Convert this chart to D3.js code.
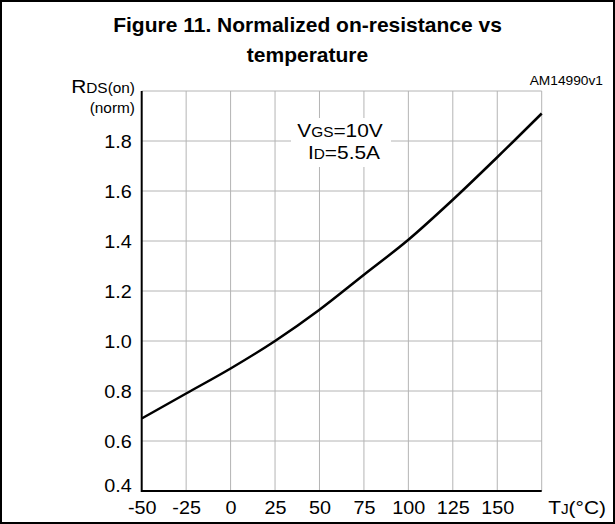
<!DOCTYPE html>
<html><head><meta charset="utf-8">
<script src="https://cdn.jsdelivr.net/npm/d3@7"></script>
<style>
html,body{margin:0;padding:0;background:#fff;}
svg{display:block;font-family:"Liberation Sans",Arial,Helvetica,sans-serif;}
</style></head><body>
<svg id="c" width="615" height="524"></svg>
<script>
const temps = [-50, -25, 0, 25, 50, 75, 100, 125, 150, 175];
const rdsNorm = [0.69, 0.79, 0.89, 1.00, 1.125, 1.265, 1.405, 1.565, 1.735, 1.91];
const xTicks = [-50, -25, 0, 25, 50, 75, 100, 125, 150];
const yTicks = [0.4, 0.6, 0.8, 1.0, 1.2, 1.4, 1.6, 1.8];
const titleLines = ["Figure 11. Normalized on-resistance vs", "temperature"];

const svg = d3.select("#c");
const W = 615, H = 524;
const SX = 1.1; // horizontal stretch of the original lettering
const m = {left: 141.7, right: 541.7, top: 91, bottom: 491};

svg.append("rect").attr("x",1).attr("y",1).attr("width",W-2).attr("height",H-2)
  .attr("fill","#fff").attr("stroke","#000").attr("stroke-width",2);

const x = d3.scaleLinear().domain([-50,175]).range([m.left,m.right]);
const y = d3.scaleLinear().domain([0.4,2.0]).range([m.bottom,m.top]);

function stretched(px, py, anchor, size){
  return svg.append("text").attr("transform",`translate(${px},${py}) scale(${SX},1)`)
    .attr("text-anchor",anchor).attr("font-size",size);
}

// title
svg.append("g").selectAll("text").data(titleLines).join("text")
  .attr("x", W/2).attr("y",(d,i)=>32+i*30).attr("text-anchor","middle")
  .attr("font-weight","bold").attr("font-size",21).text(d=>d);

stretched(603,85,"end",12.5).text("AM14990v1");

// grid
const grid = svg.append("g").attr("stroke","#b4b4b4").attr("stroke-width",1);
grid.selectAll("line.v").data(d3.range(-25,176,25)).join("line").attr("class","v")
  .attr("x1",d=>x(d)).attr("x2",d=>x(d)).attr("y1",m.top).attr("y2",m.bottom);
grid.selectAll("line.h").data([0.6,0.8,1.0,1.2,1.4,1.6,1.8,2.0]).join("line").attr("class","h")
  .attr("y1",d=>y(d)).attr("y2",d=>y(d)).attr("x1",m.left).attr("x2",m.right);

// axes
const yAxis = d3.axisLeft(y).tickValues(yTicks).tickSize(0).tickPadding(10)
  .tickFormat(d3.format(".1f"));
const gy = svg.append("g").attr("transform",`translate(${m.left},0)`).call(yAxis);
gy.select(".domain").remove();
gy.selectAll("text").attr("font-size",18).attr("font-family","Liberation Sans, Arial, sans-serif")
  .attr("fill","#000").attr("x",-10/SX).attr("transform",`scale(${SX},1)`)
  .attr("dy",d=>d===0.4?"0.0em":"0.34em");

const xAxis = d3.axisBottom(x).tickValues(xTicks).tickSize(0).tickPadding(10)
  .tickFormat(d=>String(d).replace("\u2212","-"));
const gx = svg.append("g").attr("transform",`translate(0,${m.bottom})`).call(xAxis);
gx.select(".domain").remove();
gx.selectAll("text").attr("font-size",18).attr("font-family","Liberation Sans, Arial, sans-serif")
  .attr("fill","#000").attr("transform",`scale(${SX},1)`);

svg.append("line").attr("x1",m.left).attr("x2",m.left).attr("y1",m.top).attr("y2",m.bottom+1)
  .attr("stroke","#000").attr("stroke-width",2);
svg.append("line").attr("x1",m.left).attr("x2",m.right).attr("y1",m.bottom).attr("y2",m.bottom)
  .attr("stroke","#000").attr("stroke-width",2);

// annotation box
svg.append("rect").attr("x",291).attr("y",118).attr("width",100).attr("height",49).attr("fill","#fff");
const t1 = stretched(340,137,"middle",19);
t1.append("tspan").text("V");
t1.append("tspan").attr("font-size",14).text("GS");
t1.append("tspan").text("=10V");
const t2 = stretched(344,159,"middle",19);
t2.append("tspan").text("I");
t2.append("tspan").attr("font-size",14).text("D");
t2.append("tspan").text("=5.5A");

// y title
const yt = stretched(135,93,"end",19);
yt.append("tspan").text("R");
yt.append("tspan").attr("font-size",14).text("DS(on)");
stretched(135,113,"end",14).text("(norm)");

// x title
const xt = stretched(606,514,"end",19);
xt.append("tspan").text("T");
xt.append("tspan").attr("font-size",14).text("J");
xt.append("tspan").text("(°C)");

// curve
const line = d3.line().x((d,i)=>x(temps[i])).y(d=>y(d)).curve(d3.curveMonotoneX);
svg.append("path").datum(rdsNorm).attr("d",line).attr("fill","none")
  .attr("stroke","#000").attr("stroke-width",2.5);
</script></body></html>
